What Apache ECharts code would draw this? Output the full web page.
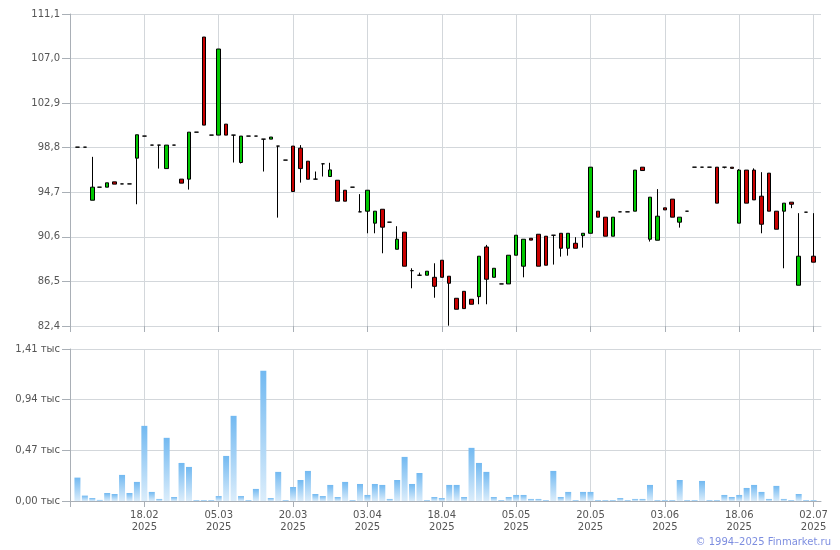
<!DOCTYPE html>
<html>
<head>
<meta charset="utf-8">
<script src="https://cdn.jsdelivr.net/npm/echarts@6/dist/echarts.min.js"></script>
<style>html,body{margin:0;padding:0;background:#fff;}#c{width:840px;height:550px;}</style>
</head>
<body>
<div id="c"></div>
<script>
const dates = [
 '05.02.2025','06.02.2025','07.02.2025','10.02.2025','11.02.2025','12.02.2025','13.02.2025','14.02.2025','17.02.2025','18.02.2025',
 '19.02.2025','20.02.2025','21.02.2025','24.02.2025','25.02.2025','26.02.2025','27.02.2025','28.02.2025','03.03.2025','05.03.2025',
 '06.03.2025','10.03.2025','11.03.2025','12.03.2025','13.03.2025','14.03.2025','17.03.2025','18.03.2025','19.03.2025','20.03.2025',
 '21.03.2025','24.03.2025','25.03.2025','26.03.2025','27.03.2025','28.03.2025','31.03.2025','01.04.2025','02.04.2025','03.04.2025',
 '04.04.2025','07.04.2025','08.04.2025','09.04.2025','10.04.2025','14.04.2025','15.04.2025','16.04.2025','17.04.2025','18.04.2025',
 '21.04.2025','22.04.2025','23.04.2025','24.04.2025','25.04.2025','28.04.2025','29.04.2025','30.04.2025','02.05.2025','05.05.2025',
 '06.05.2025','07.05.2025','08.05.2025','12.05.2025','13.05.2025','14.05.2025','15.05.2025','16.05.2025','19.05.2025','20.05.2025',
 '21.05.2025','22.05.2025','23.05.2025','26.05.2025','27.05.2025','28.05.2025','29.05.2025','30.05.2025','02.06.2025','03.06.2025',
 '04.06.2025','05.06.2025','06.06.2025','09.06.2025','10.06.2025','11.06.2025','13.06.2025','16.06.2025','17.06.2025','18.06.2025',
 '19.06.2025','20.06.2025','23.06.2025','24.06.2025','25.06.2025','26.06.2025','27.06.2025','30.06.2025','01.07.2025','02.07.2025'
];
const openP = [98.85,98.85,93.97,95.17,95.17,95.66,95.47,95.47,97.84,99.87,
 99.04,99.04,96.88,99.04,95.91,95.91,100.23,108.98,99.96,99.96,
 100.97,99.96,97.44,99.87,99.87,99.59,99.59,98.95,97.66,98.95,
 98.76,97.56,95.91,97.32,96.15,95.81,94.89,95.17,92.9,92.96,
 91.86,93.14,91.95,89.46,91.03,87.49,87.07,87.07,86.88,88.45,
 86.98,84.95,85.59,84.86,85.1,89.67,86.88,86.27,86.27,88.91,
 87.9,90.47,90.84,90.66,90.75,90.93,89.55,90.01,90.71,90.93,
 92.96,92.41,90.66,92.9,92.9,92.96,97.01,90.38,90.29,93.27,
 94.07,91.95,92.96,97.01,97.01,97.01,97.01,97.01,97.01,91.86,
 96.74,96.74,94.34,96.46,92.96,92.96,93.79,86.15,92.87,88.82];
const closeP = [98.85,98.85,95.17,95.17,95.57,95.45,95.47,95.47,99.99,99.87,
 99.04,99.04,99.04,99.04,95.54,100.23,100.23,100.88,99.96,107.88,
 99.96,99.96,99.87,99.87,99.87,99.59,99.78,98.95,97.66,94.77,
 96.88,95.9,95.91,97.32,96.76,93.88,93.88,95.17,92.9,94.89,
 92.96,91.49,91.95,90.38,87.9,87.49,87.07,87.44,86.05,86.88,
 86.33,83.94,84.0,84.4,88.82,86.7,87.71,86.27,88.91,90.75,
 90.38,90.3,87.9,87.99,90.75,89.55,90.93,89.55,90.93,97.01,
 92.41,90.66,92.41,92.9,92.9,96.74,96.7,94.25,92.5,93.08,
 92.41,92.41,92.96,97.01,97.01,97.01,93.7,97.01,96.9,96.74,
 93.7,94.0,91.76,92.96,91.3,93.7,93.6,88.82,92.87,88.27];
const lowP = [98.85,98.85,93.97,95.17,95.17,95.45,95.47,95.47,93.6,99.87,
 99.04,96.88,96.88,99.04,95.54,94.95,100.23,100.88,99.96,99.96,
 99.96,97.44,97.35,99.87,99.87,96.61,99.59,92.37,97.66,94.77,
 95.59,95.9,95.91,96.15,96.15,93.88,93.88,95.17,92.9,90.93,
 90.93,89.09,91.95,89.46,87.9,85.87,87.0,87.07,85.0,86.88,
 82.43,83.94,84.0,84.4,84.4,84.4,86.88,86.27,86.27,88.91,
 86.88,90.3,87.9,87.99,88.05,88.78,88.87,89.55,89.61,90.93,
 92.41,90.66,90.66,92.9,92.9,92.96,96.7,90.17,90.29,93.08,
 92.41,91.45,92.96,97.01,97.01,97.01,93.7,96.9,96.9,91.86,
 93.7,94.0,90.93,92.96,91.3,87.71,93.24,86.15,92.87,88.27];
const highP = [98.85,98.85,97.96,95.17,95.57,95.66,95.47,95.47,99.99,99.87,
 99.04,99.04,99.04,99.04,95.91,100.23,100.23,108.98,99.96,107.88,
 100.97,99.96,99.87,99.87,99.87,99.59,99.78,98.95,97.66,98.95,
 99.04,97.56,96.61,97.32,97.41,95.81,94.89,95.17,94.53,94.89,
 92.96,93.14,91.95,91.58,91.03,87.71,87.31,87.44,88.17,88.45,
 86.98,84.95,85.59,84.86,88.82,89.86,87.71,86.27,88.91,90.75,
 90.38,90.47,90.84,90.66,90.75,90.93,90.93,90.57,90.93,97.01,
 92.96,92.41,92.41,92.9,92.9,96.74,97.01,94.25,94.99,93.27,
 94.07,92.41,92.96,97.01,97.01,97.01,97.01,97.01,97.01,96.83,
 96.74,96.9,96.55,96.46,92.96,93.7,93.79,92.78,92.87,92.78];
const volumes = [217,50,28,10,74,65,242,74,177,697,
 84,19,586,37,353,316,9,9,9,46,
 418,790,46,9,112,1208,28,270,9,130,
 195,279,65,46,149,37,177,9,158,56,
 158,149,19,195,409,158,260,9,37,28,
 149,149,37,493,353,270,37,9,37,56,
 56,19,19,9,279,37,84,9,84,84,
 9,9,9,28,9,19,19,149,9,9,
 9,195,9,9,186,9,9,56,37,56,
 121,149,84,19,140,19,9,65,9,9];
const priceTicks = {min: 82.4, max: 111.1, step: 4.1};
const volTicks = {min: 0, max: 1410, step: 470};

const cats = [''].concat(dates, ['']);
const candleData = ['-'].concat(dates.map((d, i) => [openP[i], closeP[i], lowP[i], highP[i]]), ['-']);
const volData = ['-'].concat(volumes, ['-']);

const FONT = 'DejaVu Sans';
const gridColor = '#d3d7db';
const axisColor = '#a9afb6';
const labelColor = '#555';
const isMark = (idx) => idx % 10 === 0 && idx > 0 && idx <= dates.length;
const isTick = (idx) => idx % 10 === 0 && idx <= dates.length;

const chart = echarts.init(document.getElementById('c'), null, {renderer: 'canvas'});
chart.setOption({
  animation: false,
  backgroundColor: '#fff',
  grid: [
    {left: 70, width: 751, top: 14, height: 312},
    {left: 70, width: 751, top: 349, height: 152}
  ],
  xAxis: [
    {type: 'category', gridIndex: 0, data: cats, boundaryGap: false,
     axisLine: {lineStyle: {color: gridColor}},
     axisTick: {show: true, interval: isTick, length: 6, lineStyle: {color: axisColor}},
     axisLabel: {show: false},
     splitLine: {show: true, interval: isMark, lineStyle: {color: gridColor}}},
    {type: 'category', gridIndex: 1, data: cats, boundaryGap: false,
     axisLine: {lineStyle: {color: axisColor}},
     axisTick: {show: true, interval: isTick, length: 6, lineStyle: {color: axisColor}},
     axisLabel: {interval: isMark, color: labelColor, fontFamily: FONT, fontSize: 10, lineHeight: 12, margin: 8,
       formatter: (v) => v ? v.slice(0, 5) + '\n' + v.slice(6) : ''},
     splitLine: {show: true, interval: isMark, lineStyle: {color: gridColor}}}
  ],
  yAxis: [
    {type: 'value', gridIndex: 0, min: priceTicks.min, max: priceTicks.max, interval: priceTicks.step,
     axisLine: {show: true, lineStyle: {color: axisColor}},
     axisTick: {show: true, length: 8, lineStyle: {color: axisColor}},
     axisLabel: {color: labelColor, fontFamily: FONT, fontSize: 10, margin: 10,
       formatter: (v) => v.toFixed(1).replace('.', ',')},
     splitLine: {lineStyle: {color: gridColor}}},
    {type: 'value', gridIndex: 1, min: volTicks.min, max: volTicks.max, interval: volTicks.step,
     axisLine: {show: true, lineStyle: {color: axisColor}},
     axisTick: {show: true, length: 8, lineStyle: {color: axisColor}},
     axisLabel: {color: labelColor, fontFamily: FONT, fontSize: 10, margin: 10,
       formatter: (v) => (v / 1000).toFixed(2).replace('.', ',') + ' тыс'},
     splitLine: {lineStyle: {color: gridColor}}}
  ],
  series: [
    {type: 'candlestick', xAxisIndex: 0, yAxisIndex: 0, data: candleData, barWidth: 4,
     itemStyle: {color: '#00c800', color0: '#c80000', borderColor: '#000', borderColor0: '#000', borderWidth: 1}},
    {type: 'bar', xAxisIndex: 1, yAxisIndex: 1, data: volData, barWidth: 6,
     itemStyle: {color: new echarts.graphic.LinearGradient(0, 0, 0, 1, [
       {offset: 0, color: '#72b9f1'}, {offset: 1, color: '#dbedfb'}])}}
  ],
  graphic: [
    {type: 'text', right: 9, bottom: 3,
     style: {text: '© 1994–2025 Finmarket.ru', fill: '#7d8ee0', font: '10px "DejaVu Sans"'}}
  ]
});
</script>
</body>
</html>
